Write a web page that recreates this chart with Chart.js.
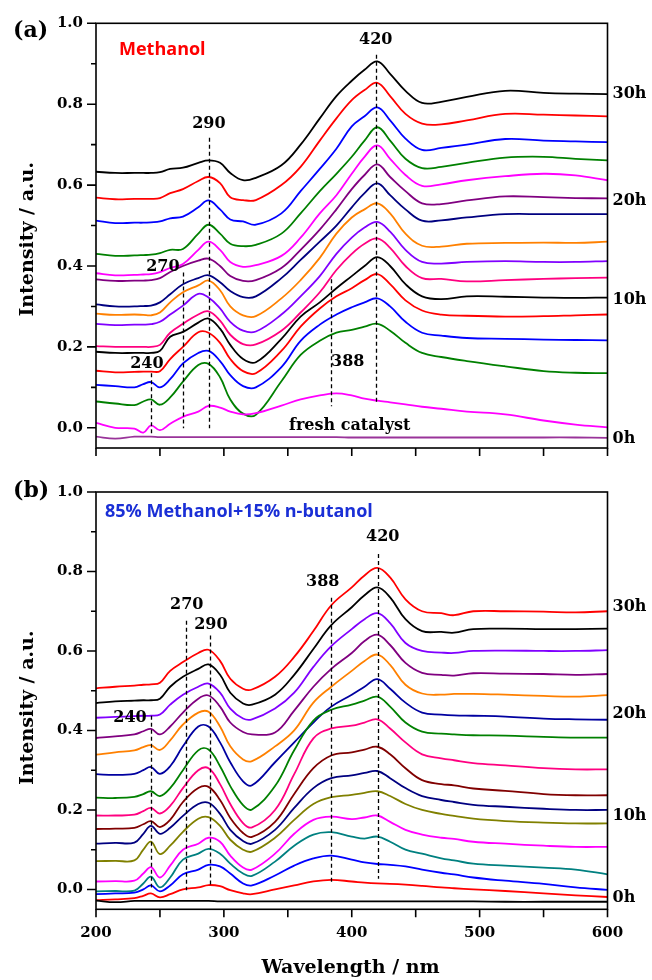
<!DOCTYPE html>
<html>
<head>
<meta charset="utf-8">
<script src="https://cdn.jsdelivr.net/npm/chart.js@4.4.0/dist/chart.umd.min.js"></script>
<style>
  html, body { margin: 0; padding: 0; background: #fff; }
  #wrap { position: relative; width: 652px; height: 980px; }
  canvas { position: absolute; left: 0; }
  #chartA { top: 0; }
  #chartB { top: 470px; }
</style>
</head>
<body>
<div id="wrap">
  <canvas id="chartA" width="652" height="470"></canvas>
  <canvas id="chartB" width="652" height="510"></canvas>
</div>
<script>
// wavelength grids (nm) the spectra were read at
const wavelengthA = [200, 215, 230, 237, 243, 250, 258, 268, 280, 288, 297, 305, 315, 325, 345, 360, 375, 388, 400, 410, 420, 430, 442, 455, 470, 490, 520, 550, 575, 600];
const wavelengthB = [200, 215, 230, 237, 243, 250, 258, 268, 280, 288, 297, 305, 315, 322, 340, 355, 370, 384, 400, 410, 420, 430, 442, 455, 470, 480, 495, 520, 550, 575, 600];

// axis ticks
const xTicks = [200, 250, 300, 350, 400, 450, 500, 550, 600];
const yTicks = [0, 0.1, 0.2, 0.3, 0.4, 0.5, 0.6, 0.7, 0.8, 0.9, 1.0];

// (a) Methanol, fresh catalyst (0h) then every 2h up to 30h
const methanol_0h  = [-0.022, -0.027, -0.022, -0.022, -0.022, -0.023, -0.023, -0.023, -0.023, -0.023, -0.023, -0.023, -0.023, -0.023, -0.023, -0.023, -0.023, -0.023, -0.024, -0.024, -0.024, -0.024, -0.024, -0.024, -0.024, -0.024, -0.024, -0.024, -0.024, -0.025];
const methanol_2h  = [0.012, 0.000, -0.002, -0.012, 0.006, -0.006, 0.010, 0.027, 0.040, 0.054, 0.050, 0.040, 0.033, 0.036, 0.055, 0.070, 0.080, 0.085, 0.080, 0.072, 0.067, 0.063, 0.058, 0.052, 0.047, 0.040, 0.033, 0.018, 0.008, 0.001];
const methanol_4h  = [0.065, 0.060, 0.056, 0.065, 0.070, 0.057, 0.075, 0.114, 0.155, 0.158, 0.125, 0.070, 0.035, 0.032, 0.115, 0.180, 0.215, 0.235, 0.242, 0.250, 0.257, 0.240, 0.210, 0.185, 0.175, 0.165, 0.152, 0.140, 0.136, 0.135];
const methanol_6h  = [0.106, 0.103, 0.100, 0.108, 0.113, 0.100, 0.120, 0.159, 0.185, 0.190, 0.165, 0.130, 0.103, 0.100, 0.150, 0.215, 0.255, 0.280, 0.298, 0.310, 0.320, 0.300, 0.262, 0.235, 0.228, 0.222, 0.220, 0.218, 0.217, 0.216];
const methanol_8h  = [0.141, 0.137, 0.138, 0.139, 0.139, 0.140, 0.170, 0.200, 0.236, 0.235, 0.210, 0.170, 0.140, 0.135, 0.190, 0.250, 0.295, 0.325, 0.345, 0.365, 0.380, 0.355, 0.315, 0.290, 0.280, 0.277, 0.275, 0.276, 0.278, 0.280];
const methanol_10h = [0.188, 0.185, 0.185, 0.185, 0.185, 0.190, 0.225, 0.237, 0.260, 0.270, 0.245, 0.205, 0.170, 0.162, 0.220, 0.275, 0.310, 0.345, 0.375, 0.400, 0.422, 0.400, 0.355, 0.325, 0.318, 0.325, 0.324, 0.322, 0.321, 0.322];
const methanol_12h = [0.202, 0.200, 0.200, 0.200, 0.200, 0.205, 0.235, 0.257, 0.280, 0.288, 0.265, 0.230, 0.207, 0.206, 0.240, 0.285, 0.335, 0.390, 0.430, 0.455, 0.468, 0.445, 0.400, 0.370, 0.368, 0.362, 0.365, 0.368, 0.370, 0.371];
const methanol_14h = [0.257, 0.254, 0.255, 0.255, 0.256, 0.262, 0.280, 0.302, 0.331, 0.322, 0.295, 0.262, 0.240, 0.238, 0.280, 0.325, 0.375, 0.430, 0.470, 0.495, 0.509, 0.485, 0.440, 0.410, 0.406, 0.410, 0.412, 0.410, 0.410, 0.412];
const methanol_16h = [0.282, 0.279, 0.280, 0.279, 0.278, 0.285, 0.310, 0.335, 0.352, 0.364, 0.340, 0.300, 0.278, 0.276, 0.320, 0.365, 0.420, 0.480, 0.520, 0.540, 0.555, 0.530, 0.480, 0.450, 0.448, 0.455, 0.457, 0.458, 0.457, 0.460];
const methanol_18h = [0.305, 0.300, 0.300, 0.301, 0.302, 0.310, 0.330, 0.355, 0.370, 0.377, 0.360, 0.338, 0.323, 0.325, 0.370, 0.415, 0.460, 0.500, 0.545, 0.580, 0.604, 0.575, 0.540, 0.512, 0.513, 0.520, 0.528, 0.528, 0.528, 0.528];
const methanol_20h = [0.367, 0.363, 0.364, 0.364, 0.365, 0.370, 0.385, 0.400, 0.413, 0.418, 0.400, 0.375, 0.363, 0.365, 0.395, 0.440, 0.490, 0.540, 0.590, 0.625, 0.651, 0.620, 0.585, 0.555, 0.553, 0.562, 0.572, 0.570, 0.568, 0.567];
const methanol_22h = [0.382, 0.377, 0.378, 0.379, 0.380, 0.385, 0.395, 0.405, 0.440, 0.460, 0.440, 0.410, 0.398, 0.402, 0.425, 0.470, 0.530, 0.575, 0.628, 0.670, 0.698, 0.665, 0.625, 0.598, 0.602, 0.612, 0.622, 0.628, 0.624, 0.612];
const methanol_24h = [0.430, 0.425, 0.426, 0.427, 0.428, 0.432, 0.440, 0.442, 0.480, 0.502, 0.480, 0.455, 0.449, 0.452, 0.480, 0.530, 0.585, 0.628, 0.670, 0.710, 0.743, 0.710, 0.665, 0.642, 0.645, 0.655, 0.668, 0.670, 0.665, 0.661];
const methanol_26h = [0.512, 0.506, 0.507, 0.507, 0.508, 0.510, 0.518, 0.522, 0.545, 0.562, 0.540, 0.515, 0.510, 0.502, 0.530, 0.585, 0.640, 0.690, 0.745, 0.770, 0.792, 0.760, 0.715, 0.687, 0.692, 0.700, 0.714, 0.710, 0.708, 0.706];
const methanol_28h = [0.569, 0.565, 0.566, 0.566, 0.566, 0.568, 0.580, 0.590, 0.610, 0.620, 0.605, 0.570, 0.563, 0.563, 0.600, 0.645, 0.710, 0.765, 0.810, 0.835, 0.853, 0.820, 0.776, 0.752, 0.750, 0.760, 0.776, 0.774, 0.772, 0.770];
const methanol_30h = [0.633, 0.630, 0.630, 0.630, 0.630, 0.632, 0.640, 0.643, 0.655, 0.661, 0.655, 0.630, 0.612, 0.618, 0.649, 0.700, 0.765, 0.820, 0.858, 0.885, 0.906, 0.875, 0.833, 0.803, 0.806, 0.818, 0.833, 0.828, 0.826, 0.825];

// (b) 85% methanol + 15% n-butanol
const mix_0h  = [-0.028, -0.032, -0.029, -0.029, -0.029, -0.029, -0.029, -0.029, -0.029, -0.029, -0.030, -0.030, -0.030, -0.030, -0.030, -0.030, -0.030, -0.030, -0.030, -0.030, -0.030, -0.030, -0.030, -0.030, -0.030, -0.030, -0.030, -0.031, -0.031, -0.031, -0.031];
const mix_2h  = [-0.027, -0.025, -0.022, -0.016, -0.010, -0.020, -0.012, 0.000, 0.005, 0.011, 0.008, -0.002, -0.010, -0.012, 0.000, 0.010, 0.020, 0.024, 0.020, 0.017, 0.015, 0.014, 0.012, 0.009, 0.005, 0.003, 0.000, -0.004, -0.010, -0.015, -0.019];
const mix_4h  = [-0.012, -0.010, -0.008, 0.000, 0.010, -0.005, 0.010, 0.038, 0.050, 0.062, 0.058, 0.040, 0.015, 0.010, 0.035, 0.060, 0.078, 0.085, 0.075, 0.068, 0.064, 0.062, 0.058, 0.050, 0.042, 0.038, 0.030, 0.022, 0.014, 0.005, -0.001];
const mix_6h  = [-0.005, -0.004, -0.003, 0.015, 0.032, 0.005, 0.030, 0.075, 0.090, 0.102, 0.090, 0.065, 0.040, 0.034, 0.070, 0.110, 0.138, 0.144, 0.133, 0.128, 0.133, 0.120, 0.100, 0.090, 0.078, 0.073, 0.065, 0.060, 0.055, 0.050, 0.038];
const mix_8h  = [0.020, 0.021, 0.022, 0.040, 0.056, 0.030, 0.060, 0.100, 0.115, 0.130, 0.120, 0.085, 0.055, 0.050, 0.090, 0.140, 0.175, 0.183, 0.177, 0.181, 0.186, 0.170, 0.150, 0.138, 0.130, 0.127, 0.120, 0.115, 0.110, 0.107, 0.107];
const mix_10h = [0.071, 0.072, 0.073, 0.100, 0.120, 0.089, 0.110, 0.145, 0.178, 0.182, 0.160, 0.125, 0.100, 0.095, 0.130, 0.175, 0.215, 0.232, 0.238, 0.243, 0.247, 0.235, 0.215, 0.200, 0.190, 0.185, 0.178, 0.172, 0.168, 0.166, 0.166];
const mix_12h = [0.115, 0.117, 0.118, 0.140, 0.160, 0.140, 0.155, 0.185, 0.215, 0.218, 0.190, 0.150, 0.122, 0.115, 0.150, 0.205, 0.255, 0.280, 0.287, 0.293, 0.298, 0.280, 0.255, 0.235, 0.225, 0.220, 0.213, 0.208, 0.203, 0.200, 0.200];
const mix_14h = [0.152, 0.153, 0.155, 0.164, 0.172, 0.157, 0.175, 0.220, 0.255, 0.258, 0.225, 0.180, 0.142, 0.132, 0.170, 0.240, 0.305, 0.337, 0.345, 0.352, 0.359, 0.340, 0.305, 0.275, 0.265, 0.262, 0.254, 0.248, 0.240, 0.237, 0.237];
const mix_16h = [0.186, 0.186, 0.188, 0.197, 0.205, 0.191, 0.210, 0.255, 0.300, 0.305, 0.265, 0.215, 0.167, 0.156, 0.200, 0.290, 0.380, 0.405, 0.412, 0.420, 0.428, 0.405, 0.370, 0.340, 0.330, 0.325, 0.318, 0.312, 0.305, 0.302, 0.302];
const mix_18h = [0.231, 0.230, 0.233, 0.240, 0.247, 0.235, 0.255, 0.300, 0.350, 0.352, 0.310, 0.260, 0.212, 0.201, 0.260, 0.350, 0.425, 0.452, 0.465, 0.475, 0.485, 0.460, 0.420, 0.397, 0.392, 0.390, 0.388, 0.387, 0.384, 0.382, 0.382];
const mix_20h = [0.290, 0.288, 0.291, 0.300, 0.308, 0.291, 0.310, 0.360, 0.410, 0.410, 0.370, 0.320, 0.272, 0.262, 0.320, 0.370, 0.420, 0.460, 0.490, 0.510, 0.529, 0.505, 0.470, 0.445, 0.440, 0.438, 0.437, 0.435, 0.430, 0.428, 0.427];
const mix_22h = [0.339, 0.345, 0.350, 0.358, 0.363, 0.351, 0.375, 0.415, 0.445, 0.447, 0.410, 0.360, 0.327, 0.323, 0.360, 0.400, 0.470, 0.510, 0.550, 0.575, 0.591, 0.565, 0.515, 0.493, 0.490, 0.492, 0.492, 0.490, 0.487, 0.485, 0.489];
const mix_24h = [0.381, 0.385, 0.390, 0.398, 0.404, 0.390, 0.410, 0.445, 0.480, 0.488, 0.460, 0.420, 0.396, 0.390, 0.395, 0.450, 0.510, 0.555, 0.595, 0.625, 0.641, 0.615, 0.570, 0.545, 0.540, 0.538, 0.544, 0.543, 0.542, 0.540, 0.542];
const mix_26h = [0.432, 0.434, 0.436, 0.437, 0.437, 0.440, 0.465, 0.490, 0.510, 0.518, 0.495, 0.455, 0.430, 0.428, 0.455, 0.495, 0.560, 0.612, 0.655, 0.680, 0.695, 0.670, 0.620, 0.600, 0.596, 0.595, 0.600, 0.601, 0.600, 0.600, 0.602];
const mix_28h = [0.469, 0.473, 0.475, 0.476, 0.476, 0.480, 0.510, 0.535, 0.555, 0.566, 0.540, 0.495, 0.468, 0.465, 0.490, 0.540, 0.605, 0.665, 0.710, 0.740, 0.760, 0.735, 0.680, 0.650, 0.648, 0.646, 0.655, 0.656, 0.655, 0.655, 0.656];
const mix_30h = [0.506, 0.510, 0.513, 0.515, 0.516, 0.520, 0.550, 0.572, 0.595, 0.603, 0.575, 0.530, 0.505, 0.503, 0.535, 0.585, 0.650, 0.715, 0.760, 0.790, 0.809, 0.785, 0.730, 0.700, 0.695, 0.690, 0.700, 0.700, 0.699, 0.697, 0.700];

const methanolCurves = [methanol_0h, methanol_2h, methanol_4h, methanol_6h, methanol_8h, methanol_10h, methanol_12h, methanol_14h,
  methanol_16h, methanol_18h, methanol_20h, methanol_22h, methanol_24h, methanol_26h, methanol_28h, methanol_30h];
const mixCurves = [mix_0h, mix_2h, mix_4h, mix_6h, mix_8h, mix_10h, mix_12h, mix_14h,
  mix_16h, mix_18h, mix_20h, mix_22h, mix_24h, mix_26h, mix_28h, mix_30h];

const methanolColors = ['#993399', '#FF00FF', '#008000', '#0000FF', '#FF0000', '#000000', '#FF0080', '#8000FF',
  '#FF8000', '#000080', '#800080', '#FF00FF', '#008000', '#0000FF', '#FF0000', '#000000'];
const mixColors = ['#000000', '#FF0000', '#0000FF', '#008080', '#FF00FF', '#808000', '#000080', '#800000',
  '#FF0080', '#008000', '#0000A0', '#FF8000', '#800080', '#8000FF', '#000000', '#FF0000'];

const SERIF = '"DejaVu Serif", "Liberation Serif", serif';
const SANS = '"Open Sans", "Noto Sans", sans-serif';

// frame, ticks, marker lines and labels
const decor = {
  id: 'decor',
  afterDatasetsDraw(chart, args, o) {
    const ctx = chart.ctx, a = chart.chartArea;
    const xs = chart.scales.x, ys = chart.scales.y;
    const px = v => xs.getPixelForValue(v);
    const py = v => ys.getPixelForValue(v);
    ctx.save();
    ctx.strokeStyle = '#000';

    // dashed peak markers
    ctx.lineWidth = 1.3;
    ctx.setLineDash([4, 3]);
    o.dashes.forEach(d => {
      ctx.beginPath();
      ctx.moveTo(Math.round(px(d[0])) + 0.5, py(d[1]));
      ctx.lineTo(Math.round(px(d[0])) + 0.5, py(d[2]));
      ctx.stroke();
    });
    ctx.setLineDash([]);

    // frame + outward ticks
    ctx.lineWidth = 1.6;
    ctx.strokeRect(a.left, a.top, a.right - a.left, a.bottom - a.top);
    ctx.beginPath();
    yTicks.forEach((v, i) => {
      const y = py(v), len = i % 2 === 0 ? 9 : 5;
      ctx.moveTo(a.left - len, y);
      ctx.lineTo(a.left, y);
    });
    xTicks.forEach(v => {
      ctx.moveTo(px(v), a.bottom);
      ctx.lineTo(px(v), a.bottom + 8);
    });
    ctx.stroke();

    // text labels placed in data coordinates
    ctx.textBaseline = 'middle';
    o.labels.forEach(l => {
      ctx.font = l.font;
      ctx.fillStyle = l.color || '#000';
      ctx.textAlign = l.align || 'center';
      ctx.fillText(l.text, px(l.x), py(l.y));
    });

    // labels outside the plot, at fixed pixel places
    ctx.font = 'bold 22px ' + SERIF;
    ctx.fillStyle = '#000';
    ctx.textAlign = 'left';
    ctx.fillText(o.panel, 13, o.panelY);

    ctx.font = 'bold 16px ' + SERIF;
    o.hours.forEach(h => ctx.fillText(h[0], a.right + 5, py(h[1])));

    ctx.font = 'bold 19px ' + SERIF;
    ctx.textAlign = 'center';
    ctx.save();
    ctx.translate(28, py(o.titleY));
    ctx.rotate(-Math.PI / 2);
    ctx.fillText('Intensity / a.u.', 0, 0);
    ctx.restore();

    if (o.xTitle) {
      ctx.fillText(o.xTitle, 350.5, a.bottom + 59);
    }
    ctx.restore();
  }
};

function makePanel(id, wavelengths, curves, colors, padTop, axisHeight, showX, decorOpts) {
  const datasets = curves.map((vals, i) => ({
    data: wavelengths.map((w, j) => ({ x: w, y: vals[j] })),
    borderColor: colors[i],
    borderWidth: 1.8,
    pointRadius: 0,
    fill: false,
    tension: 0.4
  }));

  return new Chart(document.getElementById(id), {
    type: 'line',
    data: { datasets: datasets },
    plugins: [decor],
    options: {
      responsive: false,
      animation: false,
      events: [],
      layout: { padding: { top: padTop, right: 44.5, left: 0, bottom: 0 } },
      plugins: { legend: { display: false }, tooltip: { enabled: false }, decor: decorOpts },
      scales: {
        x: {
          type: 'linear', min: 200, max: 600,
          grid: { display: false, drawTicks: false },
          border: { display: false },
          afterBuildTicks: s => { s.ticks = xTicks.map(v => ({ value: v })); },
          afterFit: s => { s.height = axisHeight; },
          ticks: {
            autoSkip: false, maxRotation: 0, padding: 15, color: '#000',
            font: { family: SERIF, weight: 'bold', size: 15 },
            callback: v => (showX && v % 100 === 0) ? String(v) : ''
          }
        },
        y: {
          type: 'linear', min: -0.05, max: 1.0,
          grid: { display: false, drawTicks: false },
          border: { display: false },
          afterBuildTicks: s => { s.ticks = yTicks.map(v => ({ value: v })); },
          afterFit: s => { s.width = 96; },
          ticks: {
            autoSkip: false, padding: 13, color: '#000',
            font: { family: SERIF, weight: 'bold', size: 15 },
            callback: v => (Math.round(v * 10) % 2 === 0) ? v.toFixed(1) : ''
          }
        }
      }
    }
  });
}

const labelFont = 'bold 16px ' + SERIF;

makePanel('chartA', wavelengthA, methanolCurves, methanolColors, 23.3, 17.3, false, {
  panel: '(a)', panelY: 31, titleY: 0.466,
  dashes: [[243, 0.135, -0.014], [268, 0.384, -0.001], [288, 0.717, -0.001], [384, 0.367, 0.053], [419.3, 0.922, 0.057]],
  labels: [
    { text: 'Methanol', x: 218, y: 0.934, font: 'bold 18px ' + SANS, color: '#FF0000', align: 'left' },
    { text: '290', x: 288.3, y: 0.752, font: labelFont },
    { text: '420', x: 418.8, y: 0.960, font: labelFont },
    { text: '270', x: 252.3, y: 0.399, font: labelFont },
    { text: '240', x: 239.8, y: 0.157, font: labelFont },
    { text: '388', x: 396.9, y: 0.164, font: labelFont },
    { text: 'fresh catalyst', x: 398.4, y: 0.006, font: labelFont }
  ],
  hours: [['30h', 0.825], ['20h', 0.562], ['10h', 0.317], ['0h', -0.028]]
});

makePanel('chartB', wavelengthB, mixCurves, mixColors, 9.3, 70.7, true, {
  panel: '(b)', panelY: 21, titleY: 0.457, xTitle: 'Wavelength / nm',
  dashes: [[243, 0.437, 0.005], [270.3, 0.676, -0.002], [289, 0.639, 0.005], [384, 0.734, 0.017], [420.3, 0.844, 0.027]],
  labels: [
    { text: '85% Methanol+15% n-butanol', x: 207, y: 0.951, font: 'bold 18px ' + SANS, color: '#1A2FD6', align: 'left' },
    { text: '270', x: 271, y: 0.715, font: labelFont },
    { text: '290', x: 289.8, y: 0.666, font: labelFont },
    { text: '240', x: 226.6, y: 0.432, font: labelFont },
    { text: '388', x: 377.3, y: 0.773, font: labelFont },
    { text: '420', x: 424.2, y: 0.888, font: labelFont }
  ],
  hours: [['30h', 0.712], ['20h', 0.441], ['10h', 0.185], ['0h', -0.020]]
});
</script>
</body>
</html>
